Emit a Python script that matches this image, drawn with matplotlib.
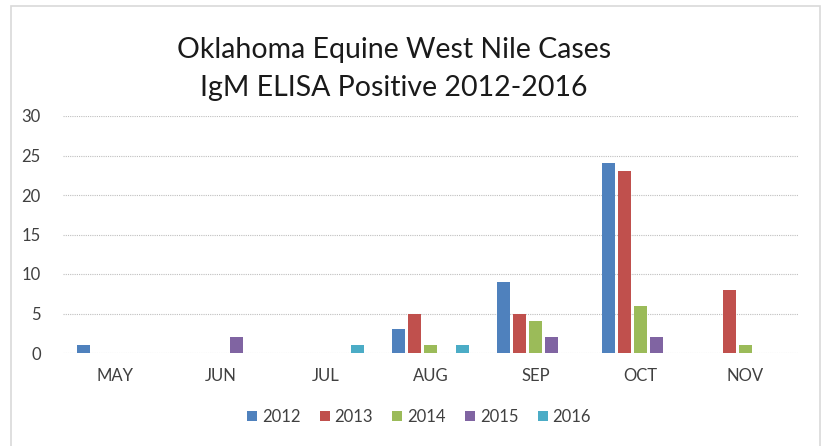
import matplotlib
matplotlib.use("Agg")
import matplotlib.pyplot as plt
import numpy as np
from matplotlib.patches import Rectangle

months = ["MAY", "JUN", "JUL", "AUG", "SEP", "OCT", "NOV"]
years = ["2012", "2013", "2014", "2015", "2016"]
v2012 = [1, 0, 0, 3, 9, 24, 0]
v2013 = [0, 0, 0, 5, 5, 23, 8]
v2014 = [0, 0, 0, 1, 4, 6, 1]
v2015 = [0, 2, 0, 0, 2, 2, 0]
v2016 = [0, 0, 1, 1, 0, 0, 0]
series = [v2012, v2013, v2014, v2015, v2016]
colors = ["#4F81BD", "#C0504D", "#9BBB59", "#8064A2", "#4BACC6"]

plt.rcParams['font.family'] = ['Lato', 'DejaVu Sans']

fig = plt.figure(figsize=(8.25, 4.46), dpi=100)
W, H = 825, 446
ax = fig.add_axes([63 / W, 1 - 353 / H, (798 - 63) / W, (353 - 116) / H])

x = np.arange(len(months))
step = 0.153
width = 0.125
for i, (vals, c, y) in enumerate(zip(series, colors, years)):
    ax.bar(x + (i - 2) * step, vals, width=width, color=c, label=y, zorder=3)

ax.set_xlim(-0.5, len(months) - 0.5)
ax.set_ylim(0, 30)
ax.set_yticks(range(0, 31, 5))
ax.set_xticks(x)
ax.set_xticklabels(months)
ax.tick_params(axis='both', length=0, labelsize=12, colors='#404040')
ax.tick_params(axis='x', pad=11)
ax.tick_params(axis='y', pad=16)
ax.grid(axis='y', color='#BFBFBF', linestyle=(0, (1, 1)), linewidth=0.8, zorder=0)
for s in ax.spines.values():
    s.set_visible(False)

fig.text(394 / W, 1 - 50 / H, "Oklahoma Equine West Nile Cases", ha='center', va='center',
         fontsize=20.5, color='#1a1a1a')
fig.text(394 / W, 1 - 88 / H, "IgM ELISA Positive 2012-2016", ha='center', va='center',
         fontsize=20.5, color='#1a1a1a')

leg = fig.legend(loc='center', bbox_to_anchor=(419 / W, 1 - 417 / H), ncol=5, frameon=False,
                 fontsize=12, handlelength=0.6, handleheight=0.6, handletextpad=0.3,
                 columnspacing=1.15)
for t in leg.get_texts():
    t.set_color('#404040')

fig.patches.append(Rectangle((11 / W, -0.05), (820 - 11) / W, 1.05 - 6 / H - 0.0,
                             transform=fig.transFigure, fill=False,
                             edgecolor='#D9D9D9', linewidth=1.2))

fig.savefig("out.png", dpi=100)
